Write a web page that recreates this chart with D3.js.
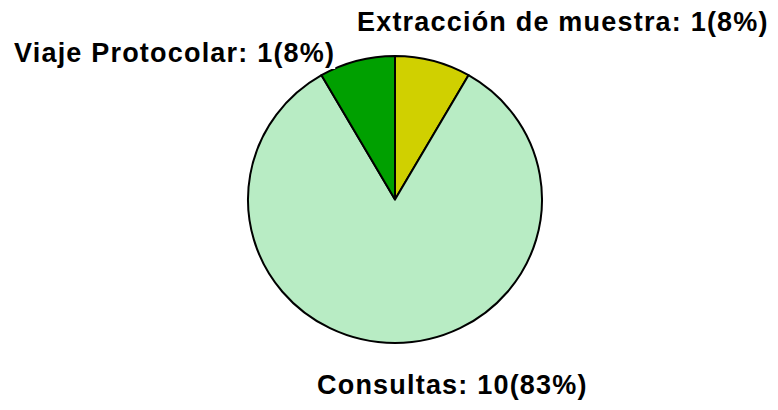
<!DOCTYPE html>
<html>
<head>
<meta charset="utf-8">
<script src="https://d3js.org/d3.v7.min.js"></script>
<style>
  body { margin: 0; background: #fff; }
  text { font-family: "Liberation Sans", Arial, sans-serif; font-weight: bold; fill: #000; }
</style>
</head>
<body>
<div id="chart"></div>
<script>
// datos del grafico
var categories = ["Extracción de muestra", "Consultas", "Viaje Protocolar"];
var values = [1, 10, 1];
var percents = ["8%", "83%", "8%"];

var colors = ["rgb(208, 208, 0)", "rgb(184, 236, 196)", "rgb(0, 160, 0)"];

var svgWidth = 778;
var svgHeight = 410;

var cx = 395, cy = 199.5;
var rx = 147, ry = 143.5;

// posicion de cada etiqueta (x, baseline, anchor)
var labelPos = [
    { x: 357, y: 31, anchor: "start" },
    { x: 317, y: 394, anchor: "start" },
    { x: 14, y: 62, anchor: "start" }
];

var svg = d3.select("#chart")
    .append("svg")
    .attr("width", svgWidth)
    .attr("height", svgHeight);

var pie = d3.pie()
    .sort(null)
    .value(d => d);

var arc = d3.arc()
    .innerRadius(0)
    .outerRadius(rx);

var pieGroup = svg.append("g")
    .attr("transform", `translate(${cx}, ${cy}) scale(1, ${ry / rx})`);

pieGroup.selectAll("path")
    .data(pie(values))
    .enter()
    .append("path")
    .attr("d", arc)
    .attr("fill", (d, i) => colors[i])
    .attr("stroke", "#000")
    .attr("stroke-width", 2)
    .attr("vector-effect", "non-scaling-stroke")
    .attr("stroke-linejoin", "round");

// etiquetas con fondo blanco
var labels = svg.selectAll("g.label")
    .data(categories)
    .enter()
    .append("g")
    .attr("class", "label");

labels.append("rect")
    .attr("fill", "#fff");

labels.append("text")
    .attr("x", (d, i) => labelPos[i].x)
    .attr("y", (d, i) => labelPos[i].y)
    .attr("text-anchor", (d, i) => labelPos[i].anchor)
    .style("font-size", "27px")
    .style("letter-spacing", "1.2px")
    .text((d, i) => `${d}: ${values[i]}(${percents[i]})`);

labels.each(function() {
    var g = d3.select(this);
    var bb = g.select("text").node().getBBox();
    g.select("rect")
        .attr("x", bb.x - 4)
        .attr("y", bb.y - 1)
        .attr("width", bb.width + 4)
        .attr("height", bb.height + 2);
});
</script>
</body>
</html>
